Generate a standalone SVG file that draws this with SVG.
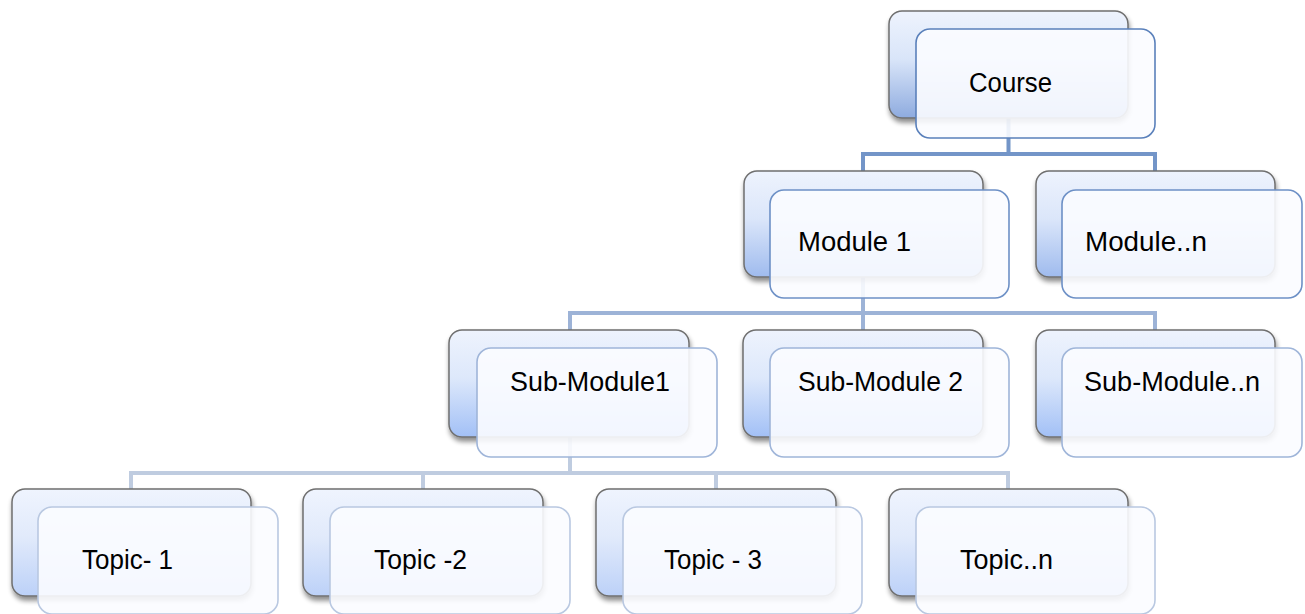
<svg xmlns="http://www.w3.org/2000/svg" width="1305" height="614" viewBox="0 0 1305 614">
<defs>
<linearGradient id="g1" x1="0" y1="0" x2="0" y2="1">
<stop offset="0" stop-color="#eef3fd"/>
<stop offset="0.45" stop-color="#d9e5f9"/>
<stop offset="1" stop-color="#8eabdf"/>
</linearGradient>
<linearGradient id="g2" x1="0" y1="0" x2="0" y2="1">
<stop offset="0" stop-color="#eef3fd"/>
<stop offset="0.45" stop-color="#dbe6fa"/>
<stop offset="1" stop-color="#9fbbee"/>
</linearGradient>
<linearGradient id="g3" x1="0" y1="0" x2="0" y2="1">
<stop offset="0" stop-color="#eef3fd"/>
<stop offset="0.45" stop-color="#dde8fb"/>
<stop offset="1" stop-color="#a2c0f6"/>
</linearGradient>
<linearGradient id="g4" x1="0" y1="0" x2="0" y2="1">
<stop offset="0" stop-color="#eff4fe"/>
<stop offset="0.45" stop-color="#e1eafb"/>
<stop offset="1" stop-color="#bcd1f8"/>
</linearGradient>
<filter id="sh" x="-10%" y="-10%" width="125%" height="130%">
<feGaussianBlur in="SourceAlpha" stdDeviation="2.5"/>
<feOffset dx="1" dy="4" result="b"/>
<feComponentTransfer><feFuncA type="linear" slope="0.45"/></feComponentTransfer>
<feMerge><feMergeNode/><feMergeNode in="SourceGraphic"/></feMerge>
</filter>
</defs>
<style>
.back{stroke:#6f6f6f;stroke-width:1.5;filter:url(#sh)}
.front{fill:#fbfcff;fill-opacity:0.9;stroke-width:1.6}
.f1{stroke:#5a80bb}
.f2{stroke:#6d90c6}
.f3{stroke:#9fb5d9}
.f4{stroke:#b9c8e1}
.lbl{font-family:"Liberation Sans",Arial,sans-serif;font-size:27px;fill:#000}
.c1{fill:none;stroke:#7395c8;stroke-width:4}
.c2{fill:none;stroke:#9db3d7;stroke-width:4}
.c3{fill:none;stroke:#bfcce0;stroke-width:4}
</style>
<rect width="1305" height="614" fill="#ffffff"/>
<g id="connectors">
<path class="c1" d="M1008.5,118 V154 M863,172 V154 H1155 V172"/>
<path class="c2" d="M863,276 V313 M570,331 V313 H1155 V331 M863,313 V331"/>
<path class="c3" d="M570,437 V473 M131,490 V473 H1008 V490 M423,473 V490 M716,473 V490"/>
</g>
<g id="course">
<rect class="back" x="889" y="11" width="239" height="107" rx="13" fill="url(#g1)"/>
<rect class="front f1" x="916" y="29" width="239" height="109" rx="14"/>
<text class="lbl" x="969" y="92" textLength="83" lengthAdjust="spacingAndGlyphs">Course</text>
</g>
<g id="module1">
<rect class="back" x="744" y="171" width="239" height="106" rx="13" fill="url(#g2)"/>
<rect class="front f2" x="770" y="190" width="239" height="108" rx="14"/>
<text class="lbl" x="798" y="251" textLength="113" lengthAdjust="spacingAndGlyphs">Module 1</text>
</g>
<g id="modulen">
<rect class="back" x="1036" y="171" width="239" height="106" rx="13" fill="url(#g2)"/>
<rect class="front f2" x="1062" y="190" width="240" height="108" rx="14"/>
<text class="lbl" x="1085" y="251" textLength="122" lengthAdjust="spacingAndGlyphs">Module..n</text>
</g>
<g id="submodule1">
<rect class="back" x="449" y="330" width="240" height="107" rx="13" fill="url(#g3)"/>
<rect class="front f3" x="477" y="348" width="240" height="109" rx="14"/>
<text class="lbl" x="510" y="391" textLength="160" lengthAdjust="spacingAndGlyphs">Sub-Module1</text>
</g>
<g id="submodule2">
<rect class="back" x="743" y="330" width="240" height="107" rx="13" fill="url(#g3)"/>
<rect class="front f3" x="770" y="348" width="239" height="109" rx="14"/>
<text class="lbl" x="798" y="391" textLength="165" lengthAdjust="spacingAndGlyphs">Sub-Module 2</text>
</g>
<g id="submodulen">
<rect class="back" x="1036" y="330" width="239" height="107" rx="13" fill="url(#g3)"/>
<rect class="front f3" x="1062" y="348" width="240" height="109" rx="14"/>
<text class="lbl" x="1084" y="391" textLength="176" lengthAdjust="spacingAndGlyphs">Sub-Module..n</text>
</g>
<g id="topic1">
<rect class="back" x="12" y="489" width="239" height="107" rx="13" fill="url(#g4)"/>
<rect class="front f4" x="38" y="507" width="240" height="107" rx="14"/>
<text class="lbl" x="82" y="569" textLength="91" lengthAdjust="spacingAndGlyphs">Topic- 1</text>
</g>
<g id="topic2">
<rect class="back" x="303" y="489" width="240" height="107" rx="13" fill="url(#g4)"/>
<rect class="front f4" x="330" y="507" width="240" height="107" rx="14"/>
<text class="lbl" x="374" y="569" textLength="93" lengthAdjust="spacingAndGlyphs">Topic -2</text>
</g>
<g id="topic3">
<rect class="back" x="596" y="489" width="240" height="107" rx="13" fill="url(#g4)"/>
<rect class="front f4" x="623" y="507" width="239" height="107" rx="14"/>
<text class="lbl" x="664" y="569" textLength="98" lengthAdjust="spacingAndGlyphs">Topic - 3</text>
</g>
<g id="topicn">
<rect class="back" x="889" y="489" width="239" height="107" rx="13" fill="url(#g4)"/>
<rect class="front f4" x="916" y="507" width="239" height="107" rx="14"/>
<text class="lbl" x="960" y="569" textLength="93" lengthAdjust="spacingAndGlyphs">Topic..n</text>
</g>
</svg>
